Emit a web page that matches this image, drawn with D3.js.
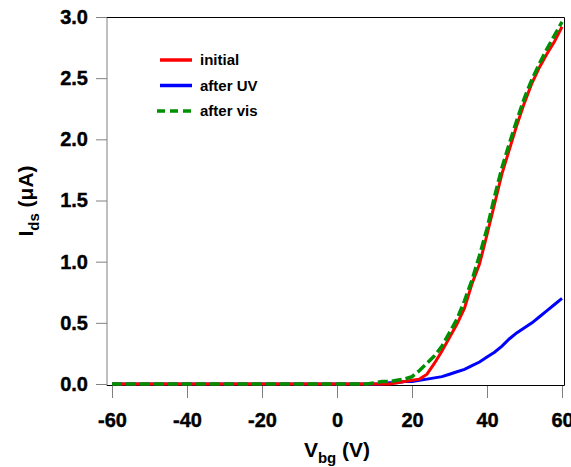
<!DOCTYPE html>
<html>
<head>
<meta charset="utf-8">
<script src="https://cdn.jsdelivr.net/npm/d3@7"></script>
<style>
  body { margin: 0; background: #fff; }
  .ejes text { font-family: 'Liberation Sans', Arial, sans-serif; font-weight: bold; font-size: 20px; fill: #000; stroke: #000; stroke-width: 0.4; }
  .ejes line { stroke: #808080; }
  .etiqueta { font-family: 'Liberation Sans', Arial, sans-serif; font-weight: bold; fill: #000; }
</style>
</head>
<body>
<div id="graf"></div>
<script>
// datos
const vbg = [-60, -40, -20, 0, 8, 10, 12, 14, 16, 18, 20, 22, 24, 26, 28, 30, 32, 34, 36, 38, 40, 42, 44, 46, 48, 50, 52, 54, 56, 58, 60]
const inicial = [0, 0, 0, 0, 0, 0, 0, 0, 0.01, 0.02, 0.03, 0.04, 0.08, 0.17, 0.27, 0.38, 0.49, 0.62, 0.82, 0.98, 1.22, 1.47, 1.72, 1.92, 2.12, 2.30, 2.46, 2.59, 2.70, 2.80, 2.92]
const despuesUV = [0, 0, 0, 0, 0, 0, 0, 0.01, 0.01, 0.02, 0.02, 0.03, 0.04, 0.05, 0.06, 0.08, 0.10, 0.12, 0.15, 0.18, 0.22, 0.26, 0.31, 0.37, 0.42, 0.46, 0.50, 0.55, 0.60, 0.65, 0.70]
const despuesVis = [0, 0, 0, 0, 0, 0.01, 0.02, 0.02, 0.03, 0.04, 0.06, 0.11, 0.17, 0.23, 0.31, 0.42, 0.53, 0.68, 0.85, 1.05, 1.27, 1.53, 1.77, 1.97, 2.16, 2.34, 2.49, 2.62, 2.74, 2.85, 2.96]

const xTicks = [-60, -40, -20, 0, 20, 40, 60]
const yTicks = [0, 0.5, 1.0, 1.5, 2.0, 2.5, 3.0]
const nombres = ['initial', 'after UV', 'after vis']

const anchoTotal = 571
const altoTotal = 467

const margin = { top: 17, bottom: 81, left: 107, right: 6 }
const ancho = anchoTotal - margin.left - margin.right
const alto = altoTotal - margin.top - margin.bottom

const svg = d3.select('#graf')
  .append('svg')
  .attr('width', anchoTotal)
  .attr('height', altoTotal)

const g = svg.append('g')
  .attr('transform', `translate(${margin.left}, ${margin.top})`)

const x = d3.scaleLinear().domain([-60, 60]).range([5, 455])
const y = d3.scaleLinear().domain([0, 3]).range([alto - 2, 0])

// ejes
const ejeX = g.append('g')
  .attr('class', 'ejes')
  .attr('transform', `translate(0, ${alto})`)
  .call(d3.axisBottom(x).tickValues(xTicks).tickSize(12).tickPadding(15).tickFormat((d) => String(d)))
ejeX.select('.domain').remove()

const ejeY = g.append('g')
  .attr('class', 'ejes')
  .call(d3.axisLeft(y).tickValues(yTicks).tickSize(11).tickPadding(8).tickFormat(d3.format('.1f')))
ejeY.select('.domain').remove()

// marco
g.append('line')
  .attr('x1', 0).attr('x2', 0).attr('y1', 0).attr('y2', alto)
  .attr('stroke', '#808080')
g.append('path')
  .attr('d', `M0,0.5H${ancho - 0.5}V${alto - 0.5}H0`)
  .attr('fill', 'none')
  .attr('stroke', '#000')

// curvas
const series = [
  { nombre: nombres[1], valores: despuesUV, color: '#0000ff', dash: null },
  { nombre: nombres[0], valores: inicial, color: '#ff0000', dash: null },
  { nombre: nombres[2], valores: despuesVis, color: '#008f00', dash: '10,4' },
]

const linea = d3.line()
  .x((d) => x(d[0]))
  .y((d) => y(d[1]))

series.forEach((s) => {
  g.append('path')
    .datum(vbg.map((v, i) => [v, s.valores[i]]))
    .attr('d', linea)
    .attr('fill', 'none')
    .attr('stroke', s.color)
    .attr('stroke-width', s.dash ? 3.5 : 3)
    .attr('stroke-dasharray', s.dash)
})

// leyenda
const leyenda = svg.append('g')
  .attr('transform', 'translate(160, 60)')

const orden = [series[1], series[0], series[2]]
orden.forEach((s, i) => {
  const fila = leyenda.append('g').attr('transform', `translate(0, ${i * 25.5})`)
  fila.append('line')
    .attr('x1', s.dash ? -3 : 0).attr('x2', 32)
    .attr('stroke', s.color)
    .attr('stroke-width', 3.5)
    .attr('stroke-dasharray', s.dash ? '8,5' : null)
  fila.append('text')
    .attr('class', 'etiqueta')
    .attr('x', 40)
    .attr('y', 5)
    .style('font-size', '15px')
    .text(s.nombre)
})

// titulos de ejes
const tX = svg.append('text')
  .attr('class', 'etiqueta')
  .attr('x', 337)
  .attr('y', 457)
  .attr('text-anchor', 'middle')
  .style('font-size', '21px')
tX.append('tspan').text('V')
tX.append('tspan').attr('dy', 6).style('font-size', '15px').text('bg')
tX.append('tspan').attr('dy', -6).text(' (V)')

const tY = svg.append('text')
  .attr('class', 'etiqueta')
  .attr('transform', 'translate(33, 201) rotate(-90)')
  .attr('text-anchor', 'middle')
  .style('font-size', '21px')
tY.append('tspan').text('I')
tY.append('tspan').attr('dy', 6).style('font-size', '15px').text('ds')
tY.append('tspan').attr('dy', -6).text(' (μA)')
</script>
</body>
</html>
